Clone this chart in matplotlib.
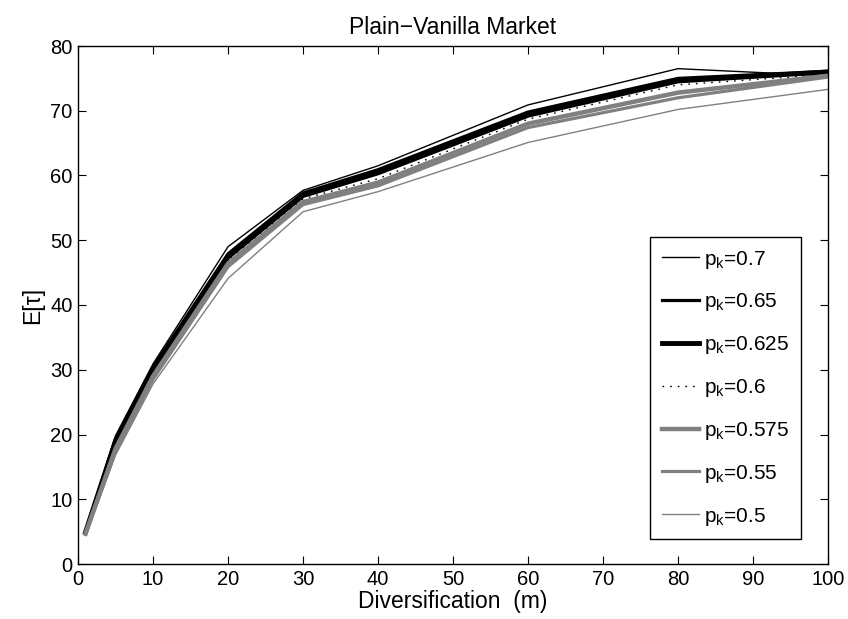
import matplotlib
matplotlib.use("Agg")
import matplotlib.pyplot as plt

x = [1, 5, 10, 20, 30, 40, 60, 80, 100]
labels = ["0.7", "0.65", "0.625", "0.6", "0.575", "0.55", "0.5"]
p070 = [5.2, 19.8, 30.9, 49.0, 57.7, 61.5, 70.9, 76.5, 75.4]
p065 = [5.0, 19.3, 30.4, 47.9, 57.3, 60.9, 69.8, 75.0, 76.1]
p0625 = [4.9, 19.0, 30.1, 47.4, 56.9, 60.4, 69.3, 74.6, 76.0]
p060 = [4.8, 18.5, 29.5, 46.9, 56.4, 59.5, 68.7, 74.0, 75.6]
p0575 = [4.7, 17.8, 29.0, 46.4, 55.9, 58.9, 68.0, 72.8, 75.4]
p055 = [4.6, 17.3, 28.5, 45.9, 55.5, 58.4, 67.4, 72.0, 75.2]
p050 = [4.4, 16.8, 27.8, 44.1, 54.4, 57.5, 65.1, 70.2, 73.3]
series = [p070, p065, p0625, p060, p0575, p055, p050]

styles = [
    dict(color="black", lw=1.0, ls="-"),
    dict(color="black", lw=2.3, ls="-"),
    dict(color="black", lw=3.5, ls="-"),
    dict(color="black", lw=1.0, ls=(0, (1.2, 4.3))),
    dict(color="#808080", lw=3.2, ls="-"),
    dict(color="#808080", lw=2.3, ls="-"),
    dict(color="#808080", lw=1.0, ls="-"),
]

plt.rcParams["font.family"] = ["Liberation Sans", "DejaVu Sans"]
plt.rcParams["mathtext.default"] = "regular"

fig = plt.figure(figsize=(8.48, 6.19), dpi=100)
ax = fig.add_axes([78 / 848, 1 - 564 / 619, 750 / 848, 518 / 619])

for vals, lab, st in zip(series, labels, styles):
    ax.plot(x, vals, label=r"$p_k$=" + lab, **st)

ax.set_xlim(0, 100)
ax.set_ylim(0, 80)
ax.set_xticks(range(0, 101, 10))
ax.set_yticks(range(0, 81, 10))
ax.tick_params(direction="in", length=6, width=0.8, top=True, right=True,
               labelsize=14.5, pad=4)
for sp in ax.spines.values():
    sp.set_linewidth(1.0)

ax.set_title("Plain\u2212Vanilla Market", fontsize=16.5, pad=9)
ax.set_xlabel("Diversification  (m)", fontsize=16.5, labelpad=1)
ax.set_ylabel("E[\u03c4]", fontsize=16.5, labelpad=4)

leg = ax.legend(loc="upper left", bbox_to_anchor=(0.763, 0.631), fontsize=15,
                frameon=True, fancybox=False, framealpha=1, edgecolor="black",
                handlelength=1.8, handletextpad=0.25, labelspacing=1.0,
                borderpad=0.55, borderaxespad=0)
leg.get_frame().set_linewidth(1.0)

fig.savefig("out.png", dpi=100)
